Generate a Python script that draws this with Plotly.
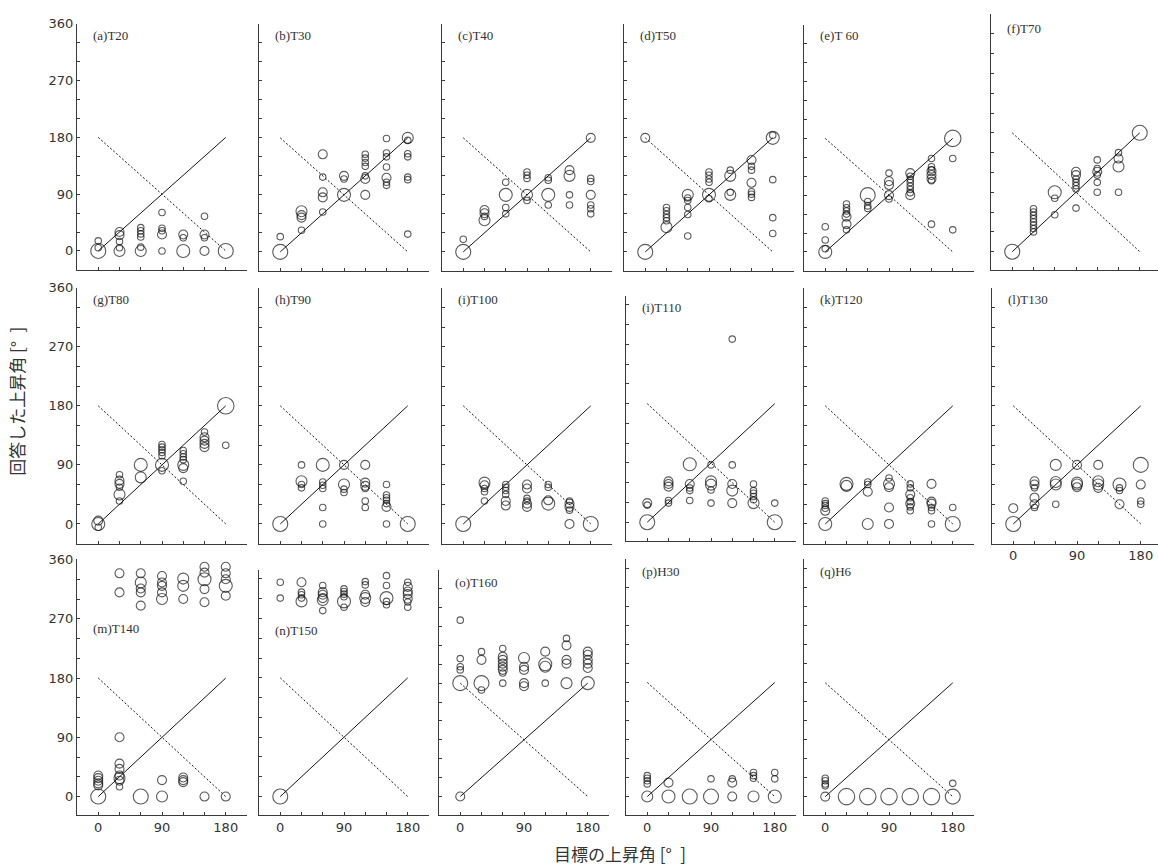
import plotly.graph_objects as go

# ---------------------------------------------------------------
# Responses per condition: (target elevation, answered elevation, number of answers)
# ---------------------------------------------------------------
T20 = [(0, 0, 5), (0, 16, 1), (0, 5, 1),
       (30, 30, 2), (30, 25, 2), (30, 15, 1), (30, 5, 1), (30, 0, 3),
       (60, 37, 1), (60, 32, 1), (60, 27, 1), (60, 22, 1), (60, 6, 1), (60, 0, 3),
       (90, 61, 1), (90, 36, 1), (90, 32, 1), (90, 26, 2), (90, 0, 1),
       (120, 26, 2), (120, 21, 1), (120, 0, 4),
       (150, 55, 1), (150, 26, 2), (150, 21, 1), (150, 0, 2),
       (180, 0, 5)]

T30 = [(0, 0, 5), (0, 24, 1),
       (30, 64, 3), (30, 58, 2), (30, 54, 2), (30, 34, 1),
       (60, 154, 2), (60, 118, 1), (60, 94, 2), (60, 86, 2), (60, 63, 1),
       (90, 90, 4), (90, 120, 2), (90, 115, 1),
       (120, 90, 2), (120, 115, 2), (120, 120, 1), (120, 154, 1), (120, 148, 1), (120, 141, 1), (120, 135, 1),
       (150, 179, 1), (150, 156, 1), (150, 150, 1), (150, 134, 1), (150, 117, 2), (150, 110, 1), (150, 105, 1),
       (180, 180, 3), (180, 176, 1), (180, 155, 1), (180, 150, 1), (180, 118, 1), (180, 114, 1), (180, 28, 1)]

T40 = [(0, 0, 5), (0, 20, 1),
       (30, 66, 2), (30, 61, 2), (30, 56, 1), (30, 50, 3),
       (60, 110, 1), (60, 90, 4), (60, 70, 1), (60, 60, 1),
       (90, 126, 1), (90, 121, 1), (90, 116, 1), (90, 90, 3), (90, 81, 1),
       (120, 117, 1), (120, 113, 1), (120, 90, 4), (120, 74, 1),
       (150, 129, 2), (150, 120, 3), (150, 90, 1), (150, 74, 1),
       (180, 180, 2), (180, 116, 1), (180, 111, 1), (180, 90, 2), (180, 74, 1), (180, 68, 1), (180, 60, 1)]

T50 = [(0, 0, 5), (0, 180, 2),
       (30, 39, 3), (30, 70, 1), (30, 65, 1), (30, 59, 1), (30, 54, 1), (30, 49, 1),
       (60, 90, 3), (60, 85, 1), (60, 81, 1), (60, 70, 1), (60, 59, 1), (60, 25, 1),
       (90, 90, 4), (90, 84, 1), (90, 126, 1), (90, 121, 1), (90, 115, 1), (90, 110, 1),
       (120, 120, 3), (120, 129, 1), (120, 90, 3), (120, 94, 1),
       (150, 145, 2), (150, 135, 1), (150, 129, 1), (150, 109, 2), (150, 95, 1), (150, 91, 1), (150, 86, 1),
       (180, 180, 4), (180, 184, 1), (180, 114, 1), (180, 54, 1), (180, 29, 1)]

T60 = [(0, 0, 4), (0, 5, 1), (0, 19, 1), (0, 40, 1),
       (30, 76, 1), (30, 70, 1), (30, 65, 1), (30, 60, 1), (30, 56, 2), (30, 44, 2), (30, 35, 1),
       (60, 90, 5), (60, 80, 1), (60, 73, 1), (60, 69, 1),
       (90, 125, 1), (90, 112, 2), (90, 106, 2), (90, 90, 2), (90, 84, 1),
       (120, 125, 2), (120, 120, 1), (120, 115, 1), (120, 110, 1), (120, 104, 1), (120, 99, 1), (120, 94, 1), (120, 90, 2),
       (150, 148, 1), (150, 135, 1), (150, 130, 1), (150, 128, 2), (150, 122, 2), (150, 116, 2), (150, 113, 1), (150, 44, 1),
       (180, 180, 6), (180, 148, 1), (180, 35, 1)]

T70 = [(0, 0, 5),
       (30, 65, 1), (30, 60, 1), (30, 55, 1), (30, 50, 1), (30, 45, 1), (30, 40, 1), (30, 35, 1), (30, 30, 1),
       (60, 90, 4), (60, 81, 1), (60, 56, 1),
       (90, 121, 2), (90, 116, 2), (90, 110, 1), (90, 105, 1), (90, 100, 1), (90, 95, 1), (90, 66, 1),
       (120, 139, 1), (120, 126, 1), (120, 121, 2), (120, 116, 1), (120, 105, 1), (120, 90, 1),
       (150, 150, 1), (150, 141, 2), (150, 129, 3), (150, 90, 1),
       (180, 180, 5)]

T80 = [(0, 0, 4), (0, 5, 2), (0, -5, 1),
       (30, 75, 1), (30, 66, 2), (30, 61, 2), (30, 56, 1), (30, 45, 3), (30, 35, 1),
       (60, 90, 4), (60, 71, 3),
       (90, 90, 4), (90, 121, 1), (90, 117, 1), (90, 113, 1), (90, 109, 1), (90, 104, 1), (90, 81, 1),
       (120, 112, 1), (120, 107, 1), (120, 102, 1), (120, 98, 1), (120, 90, 3), (120, 85, 2), (120, 65, 1),
       (150, 140, 1), (150, 132, 2), (150, 127, 2), (150, 122, 2), (150, 117, 2),
       (180, 180, 6), (180, 120, 1)]

T90 = [(0, 0, 5),
       (30, 90, 1), (30, 65, 3), (30, 60, 1), (30, 55, 1),
       (60, 90, 4), (60, 64, 1), (60, 59, 1), (60, 54, 1), (60, 25, 1), (60, 0, 1),
       (90, 90, 2), (90, 60, 3), (90, 53, 1), (90, 48, 1),
       (120, 90, 2), (120, 63, 2), (120, 58, 2), (120, 54, 1), (120, 35, 1), (120, 25, 1),
       (150, 60, 1), (150, 44, 1), (150, 40, 1), (150, 36, 1), (150, 31, 1), (150, 26, 2), (150, 0, 1),
       (180, 0, 5)]

T100 = [(0, 0, 5),
        (30, 63, 3), (30, 59, 2), (30, 54, 1), (30, 49, 1), (30, 35, 1),
        (60, 60, 1), (60, 56, 1), (60, 51, 1), (60, 45, 1), (60, 35, 2), (60, 28, 2),
        (90, 60, 2), (90, 54, 2), (90, 39, 1), (90, 35, 1), (90, 31, 2), (90, 26, 2),
        (120, 60, 1), (120, 56, 1), (120, 36, 2), (120, 31, 4),
        (150, 35, 1), (150, 31, 2), (150, 26, 2), (150, 21, 1), (150, 0, 2),
        (180, 0, 5)]

T110 = [(0, 0, 5), (0, 29, 2), (0, 26, 1),
        (30, 62, 2), (30, 58, 2), (30, 54, 2), (30, 33, 1), (30, 29, 1),
        (60, 88, 4), (60, 58, 2), (60, 52, 1), (60, 48, 1), (60, 33, 1),
        (90, 87, 1), (90, 62, 3), (90, 57, 3), (90, 49, 1), (90, 29, 1),
        (120, 278, 1), (120, 87, 1), (120, 58, 2), (120, 48, 3), (120, 29, 2),
        (150, 58, 1), (150, 48, 1), (150, 44, 1), (150, 39, 1), (150, 34, 1), (150, 29, 3),
        (180, 29, 1), (180, 0, 5)]

T120 = [(0, 0, 4), (0, 35, 1), (0, 31, 1), (0, 28, 1), (0, 24, 1), (0, 20, 2),
        (30, 61, 4), (30, 58, 3),
        (60, 64, 1), (60, 60, 1), (60, 49, 2), (60, 0, 3),
        (90, 70, 1), (90, 61, 3), (90, 56, 2), (90, 25, 2), (90, 0, 2),
        (120, 61, 1), (120, 55, 1), (120, 45, 2), (120, 40, 1), (120, 34, 1), (120, 31, 2), (120, 26, 1), (120, 20, 1),
        (150, 61, 2), (150, 34, 2), (150, 31, 2), (150, 25, 1), (150, 20, 1), (150, 0, 1),
        (180, 25, 1), (180, 0, 5)]

T130 = [(0, 0, 5), (0, 24, 2),
        (30, 65, 2), (30, 60, 2), (30, 55, 1), (30, 40, 2), (30, 30, 2), (30, 25, 1),
        (60, 90, 3), (60, 64, 3), (60, 60, 3), (60, 30, 1),
        (90, 90, 2), (90, 63, 3), (90, 60, 3), (90, 56, 2),
        (120, 90, 2), (120, 65, 3), (120, 60, 3), (120, 55, 2),
        (150, 60, 4), (150, 55, 1), (150, 51, 1), (150, 30, 2),
        (180, 90, 5), (180, 60, 2), (180, 35, 1), (180, 30, 1)]

T140 = [(0, 0, 5), (0, 32, 2), (0, 28, 2), (0, 24, 2), (0, 20, 2), (0, 17, 2),
        (30, 339, 2), (30, 310, 2), (30, 90, 2), (30, 50, 2), (30, 42, 2), (30, 32, 2), (30, 28, 3), (30, 24, 2), (30, 15, 1),
        (60, 339, 2), (60, 325, 3), (60, 316, 2), (60, 310, 2), (60, 290, 2), (60, 0, 5),
        (90, 335, 2), (90, 325, 2), (90, 320, 2), (90, 310, 2), (90, 300, 3), (90, 25, 2), (90, 0, 3),
        (120, 331, 3), (120, 320, 3), (120, 300, 2), (120, 29, 2), (120, 25, 2), (120, 22, 2),
        (150, 349, 2), (150, 340, 2), (150, 330, 4), (150, 315, 2), (150, 295, 2), (150, 0, 2),
        (180, 349, 2), (180, 339, 2), (180, 330, 2), (180, 320, 4), (180, 305, 2), (180, 0, 2)]

T150 = [(0, 0, 5), (0, 325, 1), (0, 301, 1),
        (30, 325, 2), (30, 310, 1), (30, 306, 1), (30, 301, 1), (30, 296, 3),
        (60, 320, 1), (60, 310, 2), (60, 306, 2), (60, 301, 2), (60, 298, 3), (60, 282, 1),
        (90, 315, 1), (90, 311, 1), (90, 307, 1), (90, 303, 1), (90, 296, 4), (90, 287, 1),
        (120, 326, 1), (120, 321, 1), (120, 306, 2), (120, 301, 3), (120, 295, 2),
        (150, 335, 1), (150, 320, 1), (150, 301, 4), (150, 296, 1), (150, 291, 1),
        (180, 325, 1), (180, 318, 2), (180, 311, 2), (180, 307, 2), (180, 300, 2), (180, 295, 1), (180, 287, 1)]

T160 = [(0, 180, 5), (0, 0, 2), (0, 280, 1), (0, 219, 1), (0, 206, 1), (0, 201, 1),
        (30, 180, 5), (30, 169, 1), (30, 230, 1), (30, 217, 2),
        (60, 235, 1), (60, 222, 2), (60, 217, 2), (60, 211, 2), (60, 206, 2), (60, 201, 2), (60, 196, 1), (60, 180, 1),
        (90, 220, 3), (90, 206, 2), (90, 201, 2), (90, 180, 2), (90, 175, 2),
        (120, 230, 2), (120, 210, 4), (120, 206, 3), (120, 180, 1),
        (150, 251, 1), (150, 240, 2), (150, 217, 2), (150, 211, 2), (150, 180, 3),
        (180, 230, 2), (180, 225, 2), (180, 217, 2), (180, 211, 2), (180, 204, 2), (180, 180, 4)]

H30 = [(0, 0, 3), (0, 33, 1), (0, 29, 1), (0, 25, 1), (0, 20, 1),
       (30, 0, 4), (30, 22, 2),
       (60, 0, 5),
       (90, 0, 5), (90, 28, 1),
       (120, 0, 2), (120, 22, 2), (120, 28, 1),
       (150, 0, 3), (150, 38, 1), (150, 33, 1), (150, 29, 1),
       (180, 0, 4), (180, 38, 1), (180, 28, 1)]

H6 = [(0, 0, 2), (0, 29, 1), (0, 25, 1), (0, 20, 1), (0, 17, 1),
      (30, 0, 6), (60, 0, 6), (90, 0, 6), (120, 0, 6), (150, 0, 6),
      (180, 0, 5), (180, 21, 1)]

PANEL_TITLES = ["(a)T20", "(b)T30", "(c)T40", "(d)T50", "(e)T 60", "(f)T70",
                "(g)T80", "(h)T90", "(i)T100", "(i)T110", "(k)T120", "(l)T130",
                "(m)T140", "(n)T150", "(o)T160", "(p)H30", "(q)H6"]
PANEL_DATA = [T20, T30, T40, T50, T60, T70, T80, T90, T100, T110, T120, T130,
              T140, T150, T160, H30, H6]

X_TICKS = [0, 30, 60, 90, 120, 150, 180]
X_TICK_TEXT = ["0", "", "", "90", "", "", "180"]
Y_TICKS = [0, 30, 60, 90, 120, 150, 180, 210, 240, 270, 300, 330, 360]
Y_TICK_TEXT = ["0", "", "", "90", "", "", "180", "", "", "270", "", "", "360"]

Y_TITLE = "回答した上昇角 [°\u2002]"
X_TITLE = "目標の上昇角 [°\u2002]"

# ---------------------------------------------------------------
# Page geometry (pixels): left edge, top, bottom, y-range, title row, labels
# ---------------------------------------------------------------
W, H = 1158, 865
PX_PER_DEG_X = 170 / 240.0

GEOM = [
    # left, top, bottom, ymin, ymax, title_y, y labels, x labels
    (77, 17, 265, -30, 360, 29, True, False),
    (259, 17, 266, -30, 360, 29, False, False),
    (442, 17, 266, -30, 360, 29, False, False),
    (624, 17, 266, -30, 360, 29, False, False),
    (804, 18, 266, -30, 360, 29, False, False),
    (991, 7, 265, -27.5, 360, 22, False, False),
    (77, 283, 541, -30, 360, 295, True, False),
    (259, 283, 541, -30, 360, 295, False, False),
    (442, 283, 541, -30, 360, 295, False, False),
    (626, 291, 538, -28, 344, 303, False, False),
    (804, 283, 541, -30, 360, 295, False, False),
    (992, 283, 541, -30, 360, 295, False, True),
    (77, 557, 815, -28.6, 360, 627, True, True),
    (259, 568, 815, -28.6, 343, 629, False, True),
    (439, 568, 815, -30, 359, 580, False, True),
    (626, 557, 815, -29.7, 374, 569, False, True),
    (804, 557, 815, -29.7, 375, 569, False, True),
]

SIZE_BY_COUNT = {1: 6.5, 2: 9, 3: 11, 4: 13, 5: 15, 6: 16.5}

INK = "#161616"
AXIS = "#3a3a3a"
TICK_FONT = dict(family="DejaVu Sans", size=13, color="#333333")
TITLE_FONT = dict(family="Liberation Serif", size=13, color="#333333")
AXIS_TITLE_FONT = dict(family="Noto Sans CJK JP", size=17, color="#333333")


def fx(px):
    return px / W


def fy(py):
    return 1 - py / H


fig = go.Figure()
layout = dict(
    width=W, height=H,
    margin=dict(l=0, r=0, t=0, b=0),
    paper_bgcolor="white", plot_bgcolor="white",
    showlegend=False,
    annotations=[],
)

for i, (title, pts, g) in enumerate(zip(PANEL_TITLES, PANEL_DATA, GEOM), start=1):
    left, top, bottom, ymin, ymax, title_y, ylab, xlab = g
    right = min(left + 170, W)
    xmax = -30 + (right - left) / PX_PER_DEG_X
    xs = f"x{i}" if i > 1 else "x"
    ys = f"y{i}" if i > 1 else "y"
    xkey = f"xaxis{i}" if i > 1 else "xaxis"
    ykey = f"yaxis{i}" if i > 1 else "yaxis"

    layout[xkey] = dict(
        domain=[fx(left), fx(right)], range=[-30, xmax], anchor=ys,
        showgrid=False, zeroline=False, showline=True, linecolor=AXIS, linewidth=1.2,
        ticks="inside", ticklen=3, tickwidth=1, tickcolor=AXIS,
        tickmode="array", tickvals=X_TICKS,
        ticktext=X_TICK_TEXT if xlab else [""] * len(X_TICKS),
        tickfont=TICK_FONT, fixedrange=True,
    )
    yt = [v for v in Y_TICKS if v <= ymax]
    layout[ykey] = dict(
        domain=[fy(bottom), fy(top)], range=[ymin, ymax], anchor=xs,
        showgrid=False, zeroline=False, showline=True, linecolor=AXIS, linewidth=1.2,
        ticks="inside", ticklen=3, tickwidth=1, tickcolor=AXIS,
        tickmode="array", tickvals=yt,
        ticktext=Y_TICK_TEXT[:len(yt)] if ylab else [""] * len(yt),
        tickfont=TICK_FONT, fixedrange=True,
    )

    # reference lines: correct answer (solid) and mirrored answer (dotted)
    fig.add_trace(go.Scatter(x=[0, 180], y=[0, 180], mode="lines", xaxis=xs, yaxis=ys,
                             line=dict(color=INK, width=1), hoverinfo="skip"))
    fig.add_trace(go.Scatter(x=[0, 180], y=[180, 0], mode="lines", xaxis=xs, yaxis=ys,
                             line=dict(color=INK, width=1, dash="2px,2px"), hoverinfo="skip"))

    tx = [p[0] for p in pts]
    ty = [p[1] for p in pts]
    tn = [p[2] for p in pts]
    fig.add_trace(go.Scatter(
        x=tx, y=ty, mode="markers", xaxis=xs, yaxis=ys, cliponaxis=False,
        marker=dict(symbol="circle-open", color=INK, size=[SIZE_BY_COUNT[n] for n in tn],
                    line=dict(width=1.1, color=INK)),
        customdata=tn, hovertemplate="%{x}, %{y} (n=%{customdata})<extra></extra>",
    ))

    layout["annotations"].append(dict(
        text=title, xref="paper", yref="paper", x=fx(left + 14), y=fy(title_y),
        xanchor="left", yanchor="middle", showarrow=False, font=TITLE_FONT,
    ))

layout["annotations"].append(dict(
    text=Y_TITLE, xref="paper", yref="paper", x=fx(17), y=fy(398),
    xanchor="center", yanchor="middle", textangle=-90, showarrow=False, font=AXIS_TITLE_FONT,
))
layout["annotations"].append(dict(
    text=X_TITLE, xref="paper", yref="paper", x=fx(620), y=fy(853),
    xanchor="center", yanchor="middle", showarrow=False, font=AXIS_TITLE_FONT,
))

fig.update_layout(**layout)
fig.write_html("out.html")
